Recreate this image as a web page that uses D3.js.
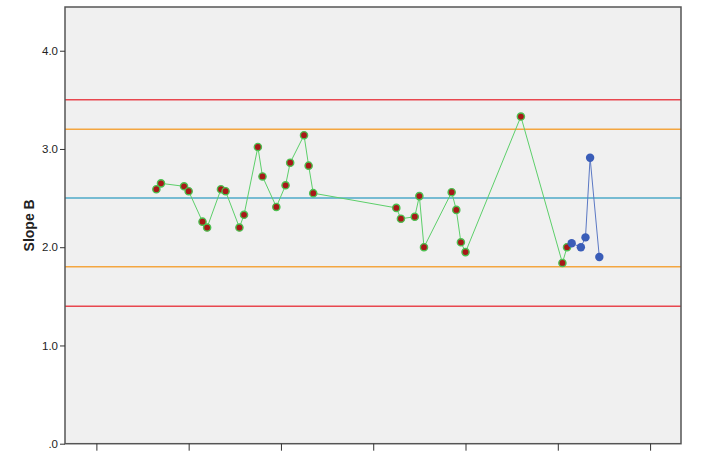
<!DOCTYPE html>
<html><head><meta charset="utf-8">
<script src="https://cdn.jsdelivr.net/npm/d3@7"></script>
<style>body{margin:0;background:#fff}svg{display:block}</style>
</head><body><svg id="c" width="702" height="451"></svg>
<script>
const seriesAX = [13,14,19,20,23,24,27,28,31,32,35,36,39,41,42,45,46,47,65,66,69,70,71,77,78,79,80,92,101,102];
const seriesAY = [2.59,2.65,2.62,2.57,2.26,2.20,2.59,2.57,2.20,2.33,3.02,2.72,2.41,2.63,2.86,3.14,2.83,2.55,2.40,2.29,2.31,2.52,2.00,2.56,2.38,2.05,1.95,3.33,1.84,2.00];
const seriesBX = [103,105,106,107,109];
const seriesBY = [2.04,2.00,2.10,2.91,1.90];
const limitValues = [3.5,3.2,2.5,1.8,1.4];
const limitColors = ["#e8474f","#f4a640","#4eaac8","#f4a640","#e8474f"];
const yTicks = [0,1,2,3,4];
const yTickLabels = [".0","1.0","2.0","3.0","4.0"];
const xTicks = [0,20,40,60,80,100,120];

const svg = d3.select("#c");
const L=65, R=681, T=7, B=443.7;
const x = d3.scaleLinear().domain([-6.8,126.7]).range([L,R]);
const y = d3.scaleLinear().domain([0,4.445]).range([B,T]);

svg.append("rect").attr("x",L).attr("y",T).attr("width",R-L).attr("height",B-T).attr("fill","#f0f0f0");

limitValues.forEach((v,i)=>{
  svg.append("line").attr("x1",L).attr("x2",R).attr("y1",y(v)).attr("y2",y(v))
    .attr("stroke",limitColors[i]).attr("stroke-width",1.5);
});

const line = d3.line().x(d=>x(d[0])).y(d=>y(d[1]));
const A = seriesAX.map((v,i)=>[v,seriesAY[i]]);
const Bd = seriesBX.map((v,i)=>[v,seriesBY[i]]);
svg.append("path").datum(A).attr("d",line).attr("fill","none").attr("stroke","#5ccf6a").attr("stroke-width",1);
svg.append("path").datum(Bd).attr("d",line).attr("fill","none").attr("stroke","#5b78c4").attr("stroke-width",1);
svg.selectAll(".pa").data(A).enter().append("circle").attr("cx",d=>x(d[0])).attr("cy",d=>y(d[1])).attr("r",3.6)
  .attr("fill","#a81818").attr("stroke","#4cc050").attr("stroke-width",1.4);
svg.selectAll(".pb").data(Bd).enter().append("circle").attr("cx",d=>x(d[0])).attr("cy",d=>y(d[1])).attr("r",4.2)
  .attr("fill","#3a5db8");

// border
svg.append("rect").attr("x",L).attr("y",T).attr("width",R-L).attr("height",B-T).attr("fill","none").attr("stroke","#555").attr("stroke-width",1.5);

const yAxis = d3.axisLeft(y).tickValues(yTicks).tickSize(5).tickFormat((d,i)=>yTickLabels[i]);
const gy = svg.append("g").attr("transform",`translate(${L},0)`).call(yAxis);
gy.select(".domain").remove();
gy.selectAll("line").attr("stroke","#333");
gy.selectAll("text").attr("font-family","Arial, 'Liberation Sans', sans-serif").attr("font-size",11.5).attr("fill","#222").attr("dx","1");

const xAxis = d3.axisBottom(x).tickValues(xTicks).tickSize(7).tickFormat("");
const gx = svg.append("g").attr("transform",`translate(0,${B})`).call(xAxis);
gx.select(".domain").remove();
gx.selectAll("line").attr("stroke","#333");

svg.append("text").attr("transform",`translate(34,${(T+B)/2}) rotate(-90)`).attr("text-anchor","middle")
  .attr("font-family","Arial, 'Liberation Sans', sans-serif").attr("font-weight","bold").attr("font-size",14).attr("fill","#222").text("Slope B");
</script></body></html>
